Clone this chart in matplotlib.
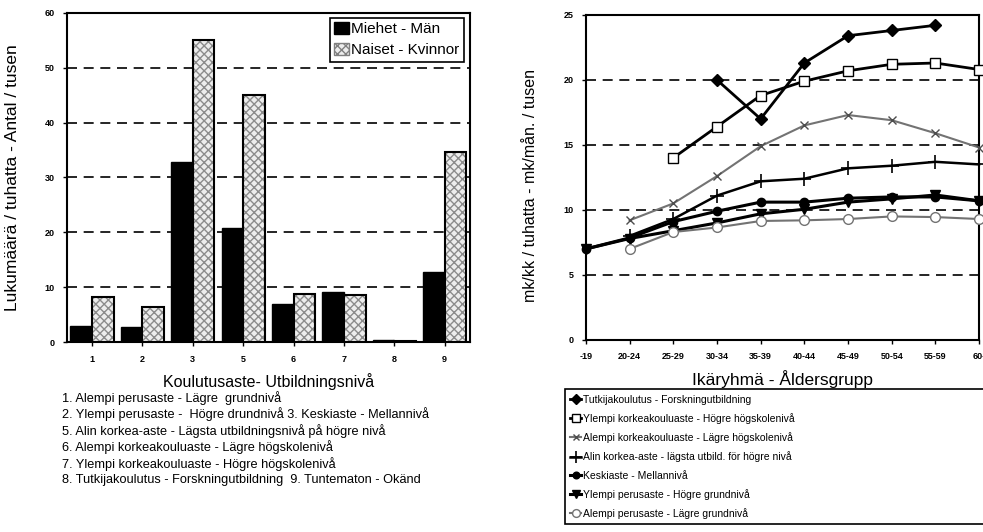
import numpy as np
import matplotlib
matplotlib.use("Agg")
import matplotlib.pyplot as plt
from matplotlib.patches import Patch

plt.rcParams["font.family"] = ["Liberation Sans", "DejaVu Sans"]

# --- data: left chart (bars) ---
edu_levels = ["1", "2", "3", "5", "6", "7", "8", "9"]
men = [2.9, 2.8, 32.9, 20.7, 6.9, 9.2, 0.4, 12.8]
women = [8.3, 6.4, 55.0, 45.0, 8.7, 8.6, 0.2, 34.7]

# --- data: right chart (lines) ---
age_groups = ["-19", "20-24", "25-29", "30-34", "35-39", "40-44",
              "45-49", "50-54", "55-59", "60-"]
nan = np.nan
tutkija = [nan, nan, nan, 20.0, 17.0, 21.3, 23.4, 23.8, 24.2, nan]
ylempi_kk = [nan, nan, 14.0, 16.4, 18.8, 19.9, 20.7, 21.2, 21.3, 20.8]
alempi_kk = [nan, 9.2, 10.5, 12.6, 14.9, 16.5, 17.3, 16.9, 15.9, 14.8]
alin_ka = [nan, 8.0, 9.3, 11.1, 12.2, 12.4, 13.2, 13.4, 13.7, 13.5]
keskiaste = [7.0, 7.85, 9.1, 9.9, 10.6, 10.6, 10.9, 11.0, 11.0, 10.7]
ylempi_pa = [7.0, 7.8, 8.4, 9.0, 9.7, 10.05, 10.6, 10.85, 11.15, 10.7]
alempi_pa = [nan, 7.0, 8.3, 8.65, 9.15, 9.2, 9.3, 9.5, 9.45, 9.3]

series_labels = [
    "Tutkijakoulutus - Forskningutbildning",
    "Ylempi korkeakouluaste - Högre högskolenivå",
    "Alempi korkeakouluaste - Lägre högskolenivå",
    "Alin korkea-aste - lägsta utbild. för högre nivå",
    "Keskiaste - Mellannivå",
    "Ylempi perusaste - Högre grundnivå",
    "Alempi perusaste - Lägre grundnivå",
]

notes = [
    "1. Alempi perusaste - Lägre  grundnivå",
    "2. Ylempi perusaste -  Högre drundnivå 3. Keskiaste - Mellannivå",
    "5. Alin korkea-aste - Lägsta utbildningsnivå på högre nivå",
    "6. Alempi korkeakouluaste - Lägre högskolenivå",
    "7. Ylempi korkeakouluaste - Högre högskolenivå",
    "8. Tutkijakoulutus - Forskningutbildning  9. Tuntematon - Okänd",
]

fig = plt.figure(figsize=(9.83, 5.32), dpi=100)

# --- left: bars ---
ax1 = fig.add_axes([0.068, 0.357, 0.410, 0.619])
x = np.arange(len(edu_levels))
w = 0.43
ax1.bar(x - w / 2, men, w, color="black", edgecolor="black", lw=1, zorder=3)
# hatch drawn in grey, outline in black on top
ax1.bar(x + w / 2, women, w, color="0.93", edgecolor="0.55", hatch="xxxx",
        lw=0, zorder=3)
ax1.bar(x + w / 2, women, w, fill=False, edgecolor="black", lw=1.5, zorder=4)
ax1.set_xlim(-0.5, len(edu_levels) - 0.5)
ax1.set_ylim(0, 60)
ax1.set_yticks(range(0, 61, 10))
ax1.set_xticks(x)
ax1.set_xticklabels(edu_levels)
for yv in range(10, 60, 10):
    ax1.axhline(yv, color="black", lw=1.2, ls=(0, (6, 4)), zorder=1)
ax1.tick_params(labelsize=6.5, width=1, length=3, pad=6)
for t in ax1.get_xticklabels() + ax1.get_yticklabels():
    t.set_fontweight("bold")
for s in ax1.spines.values():
    s.set_linewidth(1.5)
ax1.set_ylabel("Lukumäärä / tuhatta - Antal / tusen", fontsize=12.5)
ax1.yaxis.set_label_coords(-0.117, 0.5)
ax1.set_xlabel("Koulutusaste- Utbildningsnivå", fontsize=11.5, labelpad=7)
leg_handles = [Patch(facecolor="black", edgecolor="black"),
               Patch(facecolor="0.93", edgecolor="0.5", hatch="xxxx")]
leg1 = ax1.legend(leg_handles, ["Miehet - Män", "Naiset - Kvinnor"],
                  loc="upper right", bbox_to_anchor=(0.985, 0.985),
                  fontsize=11, fancybox=False, framealpha=1,
                  edgecolor="black", handlelength=1.0, handleheight=0.8,
                  handletextpad=0.1, borderpad=0.3, labelspacing=0.45,
                  borderaxespad=0)
leg1.get_frame().set_linewidth(1.2)
leg1.set_zorder(6)

for i, line in enumerate(notes):
    fig.text(0.063, 1 - (398 + i * 16.4) / 532, line, fontsize=9.2, va="center")

# --- right: lines ---
ax2 = fig.add_axes([0.596, 0.361, 0.400, 0.611])
xa = np.arange(len(age_groups))
styles = [
    (tutkija, dict(color="black", lw=2, marker="D", ms=6, mfc="black")),
    (ylempi_kk, dict(color="black", lw=2, marker="s", ms=7, mfc="white")),
    (alempi_kk, dict(color="0.45", lw=1.5, marker="x", ms=6, mec="0.3")),
    (alin_ka, dict(color="black", lw=1.8, marker="+", ms=10, mew=1.2)),
    (keskiaste, dict(color="black", lw=2.2, marker="o", ms=6, mfc="black")),
    (ylempi_pa, dict(color="black", lw=2.2, marker="v", ms=7, mfc="black")),
    (alempi_pa, dict(color="0.45", lw=1.5, marker="o", ms=7, mfc="white",
                     mec="0.45")),
]
handles = []
for (vals, st), lab in zip(styles, series_labels):
    h, = ax2.plot(xa, vals, label=lab, clip_on=False, zorder=4, **st)
    handles.append(h)
ax2.set_xlim(0, len(age_groups) - 1)
ax2.set_ylim(0, 25)
ax2.set_yticks(range(0, 26, 5))
ax2.set_xticks(xa)
ax2.set_xticklabels(age_groups)
for yv in range(5, 25, 5):
    ax2.axhline(yv, color="black", lw=1.2, ls=(0, (6, 4)), zorder=1)
ax2.tick_params(labelsize=6.5, width=1, length=3, pad=6)
for t in ax2.get_xticklabels() + ax2.get_yticklabels():
    t.set_fontweight("bold")
for s in ax2.spines.values():
    s.set_linewidth(1.5)
ax2.set_ylabel("mk/kk / tuhatta - mk/mån. / tusen", fontsize=11.5)
ax2.yaxis.set_label_coords(-0.122, 0.474)
ax2.set_xlabel("Ikäryhmä - Åldersgrupp", fontsize=12.5, labelpad=6)

leg2 = fig.legend(handles=handles, loc="upper left",
                  bbox_to_anchor=(0.575, -0.01, 0.43, 0.278), mode="expand",
                  fontsize=7.5, fancybox=False, framealpha=1,
                  edgecolor="black", handlelength=1.0, handletextpad=0.2,
                  borderpad=0.5, labelspacing=0.8, borderaxespad=0,
                  markerscale=0.8)
leg2.get_frame().set_linewidth(1.2)

fig.savefig("out.png", dpi=100)
